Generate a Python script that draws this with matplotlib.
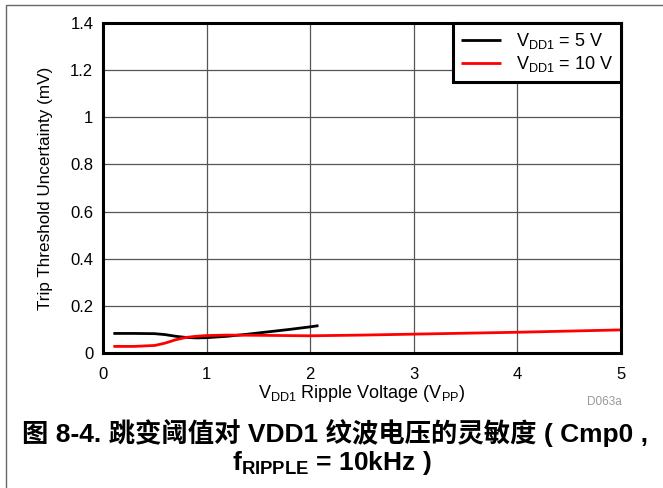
import matplotlib
matplotlib.use("Agg")
import matplotlib.pyplot as plt
from matplotlib.patches import Rectangle
import numpy as np

plt.rcParams['font.family'] = ['Liberation Sans', 'Noto Sans CJK SC', 'DejaVu Sans']
plt.rcParams['mathtext.fontset'] = 'custom'
plt.rcParams['mathtext.rm'] = 'Liberation Sans'
plt.rcParams['mathtext.bf'] = 'Liberation Sans:bold'

# Data
x_5v = [0.1, 0.3, 0.5, 0.6, 0.7, 0.8, 0.9, 1.0, 1.2, 1.4, 1.6, 1.8, 2.0, 2.08]
y_5v = [0.083, 0.083, 0.082, 0.078, 0.071, 0.066, 0.064, 0.065, 0.071, 0.080, 0.090, 0.100, 0.111, 0.116]
x_10v = [0.1, 0.3, 0.5, 0.6, 0.7, 0.8, 0.9, 1.0, 1.2, 1.5, 2.0, 2.5, 3.0, 3.5, 4.0, 4.5, 5.0]
y_10v = [0.028, 0.028, 0.032, 0.042, 0.056, 0.066, 0.071, 0.074, 0.076, 0.075, 0.073, 0.076, 0.080, 0.084, 0.088, 0.093, 0.098]

xticks = [0, 1, 2, 3, 4, 5]
yticks = [0, 0.2, 0.4, 0.6, 0.8, 1, 1.2, 1.4]
ytick_labels = ['0', '0.2', '0.4', '0.6', '0.8', '1', '1.2', '1.4']

fig = plt.figure(figsize=(6.63, 4.88), dpi=100)
W, H = 663, 488
ax = fig.add_axes([103 / W, 1 - 353 / H, (621 - 103) / W, (353 - 23) / H])

ax.plot(x_5v, y_5v, color='black', lw=2, label=r'V$_{\mathregular{DD1}}$ = 5 V', solid_capstyle='butt')
ax.plot(x_10v, y_10v, color='#ff0000', lw=2, label=r'V$_{\mathregular{DD1}}$ = 10 V', solid_capstyle='butt')

ax.set_xlim(0, 5)
ax.set_ylim(0, 1.4)
ax.set_xticks(xticks)
ax.set_xticklabels([str(t) for t in xticks])
ax.set_yticks(yticks)
ax.set_yticklabels(ytick_labels)
ax.tick_params(axis='y', length=0, labelsize=12, pad=7)
ax.tick_params(axis='x', length=0, labelsize=12, pad=10)
ax.grid(True, color='#555555', lw=0.9)
for s in ax.spines.values():
    s.set_linewidth(2.2)
    s.set_color('black')

ax.set_xlabel(r'V$_{\mathregular{DD1}}$ Ripple Voltage (V$_{\mathregular{PP}}$)', fontsize=13, labelpad=1)
ax.set_ylabel('Trip Threshold Uncertainty (mV)', fontsize=12.3, labelpad=12)

leg = ax.legend(loc='upper right', borderaxespad=0, fontsize=13, fancybox=False,
                framealpha=1, edgecolor='black', handlelength=2.2, handletextpad=0.8,
                labelspacing=0.15, borderpad=0.45)
leg.get_frame().set_linewidth(2.2)

fig.text(622 / W, 1 - 402 / H, 'D063a', color='#999999', fontsize=8.5, ha='right', va='center')

fig.text(0.5 + 3 / W, 1 - 433 / H, '图 8-4. 跳变阈值对 VDD1 纹波电压的灵敏度 ( Cmp0 ,',
         ha='center', va='center', fontsize=19, fontweight='bold',
         family=['Liberation Sans', 'Noto Sans CJK SC'])
fig.text(0.5, 1 - 463 / H, r'f$_{\mathbf{RIPPLE}}$ = 10kHz )',
         ha='center', va='center', fontsize=19, fontweight='bold',
         family=['Liberation Sans', 'Noto Sans CJK SC'])

fig.add_artist(Rectangle((6 / W, -0.01), 1.0, 1 - 5 / H + 0.01, transform=fig.transFigure,
                         fill=False, edgecolor='#666666', lw=1))

fig.savefig('out.png', dpi=100)
